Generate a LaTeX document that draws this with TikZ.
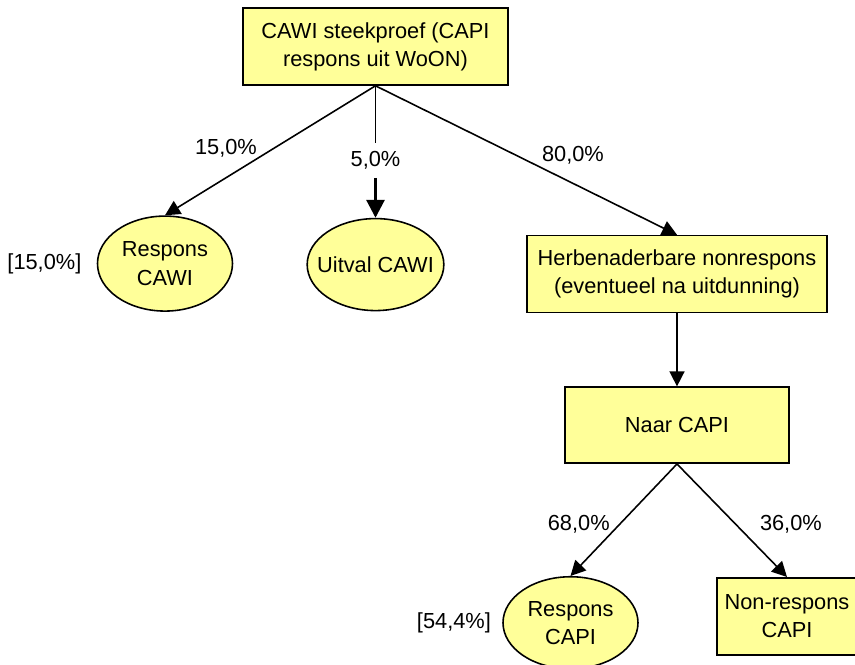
\documentclass[tikz,border=0pt]{standalone}
\usepackage{fontspec}
\setmainfont{Liberation Sans}
\usetikzlibrary{positioning, shapes.geometric, arrows.meta}
\definecolor{boxyellow}{RGB}{255,255,153}

\begin{document}
\begin{tikzpicture}[
  font=\fontsize{12.4}{16}\selectfont,
  stepbox/.style={rectangle, draw, line width=0.9pt, fill=boxyellow, align=center, inner sep=0pt, minimum height=1.54cm},
  oval/.style={ellipse, draw, line width=0.9pt, fill=boxyellow, align=center, inner xsep=-0.2cm, inner ysep=0pt, minimum width=2.7cm, minimum height=1.86cm},
  arr/.style={line width=0.9pt, -{Triangle[length=0.3cm, width=0.3cm]}},
  pct/.style={inner sep=0pt}
]
    \useasboundingbox (-7.51,0.93) rectangle (9.59,-12.35);

    % Boxes
    \node[stepbox, minimum width=5.3cm] (sample) {CAWI steekproef (CAPI\\respons uit WoON)};
    \node[oval, minimum height=1.9cm, below=2.59cm of sample, xshift=-4.21cm] (respcawi) {Respons\\CAWI};
    \node[oval, minimum height=1.84cm, below=2.64cm of sample] (uitval) {Uitval CAWI};
    \node[stepbox, minimum width=6cm, below=2.98cm of sample, xshift=6.03cm] (herb) {Herbenaderbare nonrespons\\(eventueel na uitdunning)};
    \node[stepbox, minimum width=4.48cm, minimum height=1.52cm, below=1.46cm of herb] (naar) {Naar CAPI};
    \node[oval, minimum height=1.84cm, below=2.24cm of naar, xshift=-2.13cm] (respcapi) {Respons\\CAPI};
    \node[stepbox, minimum width=2.8cm, below=2.26cm of naar, xshift=2.2cm] (nonresp) {Non-respons\\CAPI};

    % Totals
    \node[pct, left=0.3cm of respcawi] (tot1) {[15,0\%]};
    \node[pct, left=0.22cm of respcapi] (tot2) {[54,4\%]};

    % Arrows from the sample
    \draw[arr] (sample.south) -- node[pct, pos=0.56, anchor=south east] (l15) {15,0\%} (respcawi.north);
    \node[pct, inner ysep=0.165cm, below=1.14cm of sample] (l5) {5,0\%};
    \draw[line width=0.9pt] (sample.south) -- (l5.north);
    \draw[arr, line width=1.7pt, -{Triangle[length=0.36cm, width=0.36cm]}] (l5.south) -- (uitval.north);
    \draw[arr] (sample.south) -- node[pct, pos=0.53, anchor=south west, xshift=0.12cm] (l80) {80,0\%} (herb.north);

    % CAPI part
    \draw[arr] (herb.south) -- (naar.north);
    \draw[arr] (naar.south) -- node[pct, pos=0.625, anchor=south east] (l68) {68,0\%} (respcapi.north);
    \draw[arr] (naar.south) -- node[pct, pos=0.62, anchor=south west, xshift=0.28cm] (l36) {36,0\%} (nonresp.north);

\end{tikzpicture}
\end{document}
